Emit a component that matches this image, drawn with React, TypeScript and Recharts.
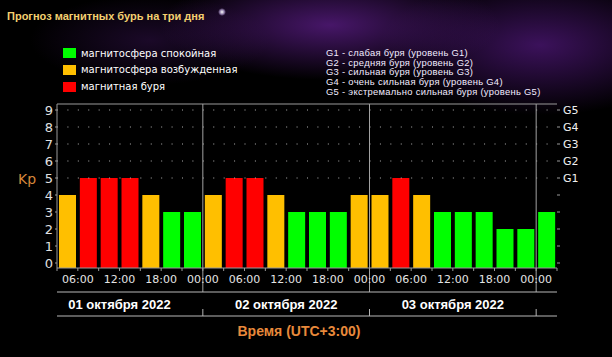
import React from "react";
import { ComposedChart, Bar, Cell, XAxis, YAxis, ReferenceLine } from "recharts";

// Kp forecast per 3-hour slot (slot starts 03:00 on 01 Oct, UTC+3)
const SLOT_KP = [4, 5, 5, 5, 4, 3, 3, 4, 5, 5, 4, 3, 3, 3, 4, 4, 5, 4, 3, 3, 3, 2, 2, 3];
const TIME_LABELS = ["06:00", "12:00", "18:00", "00:00", "06:00", "12:00", "18:00", "00:00", "06:00", "12:00", "18:00", "00:00"];
const DATES = ["01 октября 2022", "02 октября 2022", "03 октября 2022"];
const DATE_CENTERS = [3, 11, 19];
const DAY_BOUNDS = [7, 15, 23];
const Y_TICKS = [0, 1, 2, 3, 4, 5, 6, 7, 8, 9];
const G_LABELS = ["G1", "G2", "G3", "G4", "G5"];
const DOT_LEVELS = [5, 6, 7, 8, 9];
const LEGEND = [
  { label: "магнитосфера спокойная", color: "#00ff00" },
  { label: "магнитосфера возбужденная", color: "#ffbf00" },
  { label: "магнитная буря", color: "#ff0000" },
];
const G_LEGEND = [
  "G1 - слабая буря (уровень G1)",
  "G2 - средняя буря (уровень G2)",
  "G3 - сильная буря (уровень G3)",
  "G4 - очень сильная буря (уровень G4)",
  "G5 - экстремально сильная буря (уровень G5)",
];

const Y_MIN = -5 / 17;
const Y_MAX = 159 / 17;
const SLOT_COUNT = SLOT_KP.length;
const BOUNDS = Array.from({ length: SLOT_COUNT + 1 }, (_, i) => i);
const LINE_LOW = -29 / 17;
const TICK_TOP = -46 / 17;
const TICK_BOTTOM = -53 / 17;

const colorOf = (kp: number) => (kp >= 5 ? "#ff0000" : kp >= 4 ? "#ffbf00" : "#00ff00");

const rows = SLOT_KP.map((kp, i) => ({ x: i + 0.5, kp, range: [Y_MIN, kp] }));

const GRID = "#9a9a9a";

const TimeTick = (props: any) => {
  const { x, y, payload } = props;
  const v = payload.value;
  if (v % 2 !== 1) return null;
  const label = TIME_LABELS[(v - 1) / 2];
  return (
    <text x={x} y={y + 12} textAnchor="middle" fill="#e4e4e4" fontSize={11} fontFamily="DejaVu Sans">
      {label}
    </text>
  );
};

const DateTick = (props: any) => {
  const { x, y, payload } = props;
  const idx = DATE_CENTERS.indexOf(payload.value);
  if (idx < 0) return null;
  return (
    <text x={x} y={y + 16.5} textAnchor="middle" fill="#ffffff" fontSize={13} fontWeight="bold" fontFamily="Liberation Sans">
      {DATES[idx]}
    </text>
  );
};

export default function App() {
  return (
    <div
      style={{
        position: "absolute",
        left: 0,
        top: 0,
        width: 612,
        height: 357,
        overflow: "hidden",
        background:
          "radial-gradient(ellipse 170px 55px at 330px 25px, rgba(95,30,140,0.75), rgba(0,0,0,0) 100%)," +
          "radial-gradient(ellipse 160px 70px at 540px 45px, rgba(85,25,130,0.7), rgba(0,0,0,0) 100%)," +
          "radial-gradient(ellipse 120px 45px at 150px 40px, rgba(60,20,90,0.45), rgba(0,0,0,0) 100%)," +
          "#000",
      }}
    >
      <div
        style={{
          position: "absolute",
          left: 218,
          top: 8,
          width: 8,
          height: 8,
          borderRadius: 4,
          background: "radial-gradient(circle, #ffffff 0%, rgba(220,200,255,0.6) 40%, rgba(0,0,0,0) 70%)",
        }}
      />
      <div
        style={{
          position: "absolute",
          left: 7,
          top: 9,
          fontFamily: "Liberation Sans",
          fontWeight: "bold",
          fontSize: 11,
          lineHeight: "14px",
          color: "#f3d070",
          whiteSpace: "nowrap",
        }}
      >
        Прогноз магнитных бурь на три дня
      </div>
      {LEGEND.map((l, i) => (
        <div key={l.label} style={{ position: "absolute", left: 63, top: 45 + i * 16.8, height: 16, display: "flex", alignItems: "center" }}>
          <div style={{ width: 13, height: 10, background: l.color }} />
          <div style={{ marginLeft: 5, fontFamily: "DejaVu Sans", fontSize: 10, color: "#ffffff", whiteSpace: "nowrap" }}>{l.label}</div>
        </div>
      ))}
      {G_LEGEND.map((t, i) => (
        <div
          key={t}
          style={{
            position: "absolute",
            left: 326,
            top: 48.2 + i * 9.6,
            fontFamily: "Liberation Sans",
            fontSize: 9.4,
            letterSpacing: 0.3,
            lineHeight: "9.4px",
            color: "#f2ecff",
            whiteSpace: "nowrap",
          }}
        >
          {t}
        </div>
      ))}
      <div
        style={{
          position: "absolute",
          left: 18,
          top: 170,
          fontFamily: "DejaVu Sans",
          fontSize: 14,
          lineHeight: "18px",
          color: "#d6873a",
        }}
      >
        Kp
      </div>
      <div
        style={{
          position: "absolute",
          left: 199,
          width: 200,
          top: 322,
          textAlign: "center",
          fontFamily: "Liberation Sans",
          fontWeight: "bold",
          fontSize: 14,
          lineHeight: "18px",
          color: "#e8893b",
        }}
      >
        Время (UTC+3:00)
      </div>
      <div style={{ position: "absolute", left: 0, top: 0 }}>
        <ComposedChart width={612} height={357} data={rows} margin={{ top: 104, right: 0, left: 0, bottom: 0 }}>
          <XAxis
            xAxisId="a"
            type="number"
            dataKey="x"
            domain={[0, SLOT_COUNT]}
            ticks={BOUNDS}
            interval={0}
            height={24}
            tickSize={3}
            tickMargin={0}
            allowDataOverflow
            axisLine={{ stroke: GRID }}
            tickLine={{ stroke: GRID }}
            tick={<TimeTick />}
          />
          <XAxis
            xAxisId="b"
            type="number"
            dataKey="x"
            domain={[0, SLOT_COUNT]}
            ticks={DATE_CENTERS}
            interval={0}
            height={24}
            tickSize={0}
            tickMargin={0}
            allowDataOverflow
            axisLine={{ stroke: "#b8b8b8" }}
            tickLine={false}
            tick={<DateTick />}
          />
          <XAxis
            xAxisId="c"
            type="number"
            dataKey="x"
            domain={[0, SLOT_COUNT]}
            height={41}
            allowDataOverflow
            tick={false}
            tickLine={false}
            axisLine={{ stroke: "#b8b8b8" }}
          />
          <YAxis
            yAxisId="l"
            type="number"
            domain={[Y_MIN, Y_MAX]}
            allowDataOverflow
            ticks={Y_TICKS}
            interval={0}
            width={57}
            tickSize={2}
            tickMargin={2}
            axisLine={{ stroke: GRID }}
            tickLine={{ stroke: GRID }}
            tick={{ fill: "#e0e0e0", fontSize: 13, fontFamily: "DejaVu Sans" }}
          />
          <YAxis
            yAxisId="r"
            orientation="right"
            type="number"
            domain={[Y_MIN, Y_MAX]}
            allowDataOverflow
            ticks={Y_TICKS}
            interval={0}
            width={55}
            tickSize={3}
            tickMargin={3}
            axisLine={false}
            tickLine={{ stroke: GRID }}
            tickFormatter={(v: number) => (v >= 5 ? G_LABELS[v - 5] : "")}
            tick={{ fill: "#f0f0f0", fontSize: 11, fontFamily: "DejaVu Sans", textAnchor: "start" }}
          />
          {DOT_LEVELS.map((lv) => (
            <ReferenceLine key={"dot" + lv} xAxisId="a" yAxisId="l" y={lv} stroke="#b0b0b0" strokeDasharray="1 9.4167" />
          ))}
          <ReferenceLine xAxisId="a" yAxisId="l" y={Y_MAX} stroke={GRID} />
          <Bar xAxisId="a" yAxisId="l" dataKey="range" barSize={17} isAnimationActive={false}>
            {rows.map((r, i) => (
              <Cell key={i} fill={colorOf(r.kp)} />
            ))}
          </Bar>
          {DAY_BOUNDS.map((d) => (
            <ReferenceLine
              key={"sep" + d}
              xAxisId="a"
              yAxisId="l"
              ifOverflow="visible"
              stroke="#a2a2a2"
              segment={[
                { x: d, y: Y_MAX },
                { x: d, y: LINE_LOW },
              ]}
            />
          ))}
          {DAY_BOUNDS.map((d) => (
            <ReferenceLine
              key={"bt" + d}
              xAxisId="a"
              yAxisId="l"
              ifOverflow="visible"
              stroke="#b4b4b4"
              segment={[
                { x: d, y: TICK_TOP },
                { x: d, y: TICK_BOTTOM },
              ]}
            />
          ))}
        </ComposedChart>
      </div>
    </div>
  );
}
